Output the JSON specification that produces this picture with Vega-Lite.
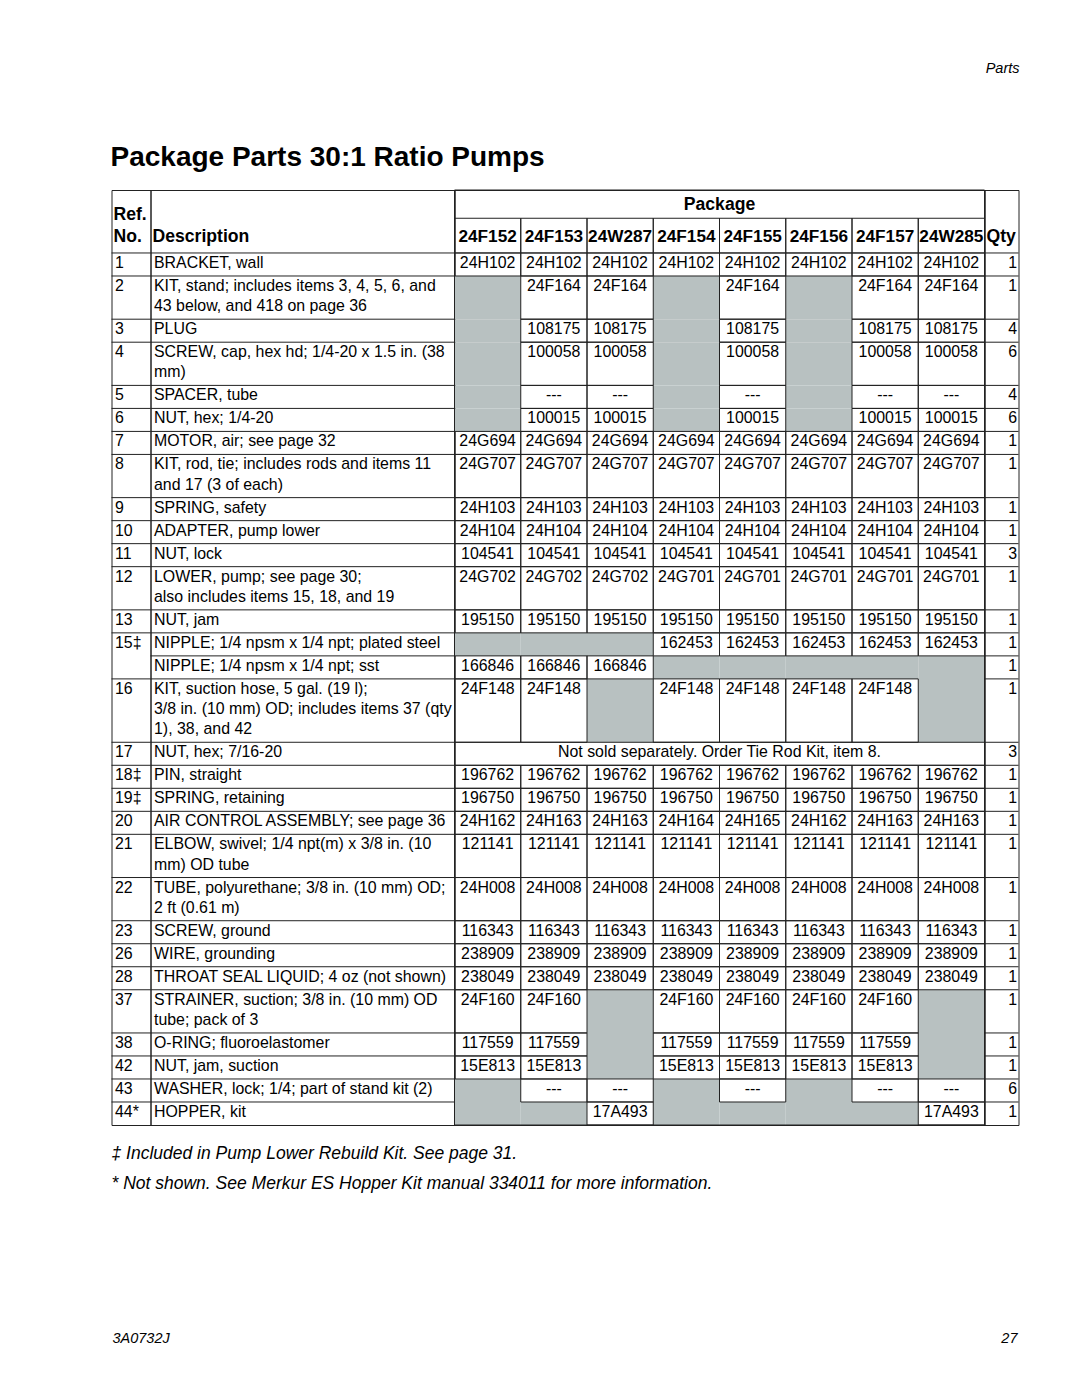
{
  "$schema": "https://vega.github.io/schema/vega-lite/v6.json",
  "background": "white",
  "padding": {"left": 110.5, "top": 60, "right": 62, "bottom": 0},
  "config": {
    "font": "Liberation Sans",
    "view": {"stroke": "#222", "strokeWidth": 1},
    "concat": {"spacing": 0},
    "text": {"font": "Liberation Sans", "fontSize": 15.9, "baseline": "alphabetic", "color": "#000"},
    "rule": {"color": "#222", "strokeWidth": 1},
    "title": {"font": "Liberation Sans", "color": "#000"}
  },
  "title": {"text": "Parts", "anchor": "end", "fontSize": 14.5, "fontStyle": "italic", "fontWeight": "normal", "offset": 68},
  "datasets": {
    "codes": [
      {"code": "24F152"}, {"code": "24F153"}, {"code": "24W287"}, {"code": "24F154"},
      {"code": "24F155"}, {"code": "24F156"}, {"code": "24F157"}, {"code": "24W285"}
    ],
    "rows": [
      {"ref": "1", "desc": ["BRACKET, wall"], "24F152": "24H102", "24F153": "24H102", "24W287": "24H102", "24F154": "24H102", "24F155": "24H102", "24F156": "24H102", "24F157": "24H102", "24W285": "24H102", "qty": "1"},
      {"ref": "2", "desc": ["KIT, stand; includes items 3, 4, 5, 6, and", "43 below, and 418 on page 36"], "24F152": "", "24F153": "24F164", "24W287": "24F164", "24F154": "", "24F155": "24F164", "24F156": "", "24F157": "24F164", "24W285": "24F164", "qty": "1"},
      {"ref": "3", "desc": ["PLUG"], "24F152": "", "24F153": "108175", "24W287": "108175", "24F154": "", "24F155": "108175", "24F156": "", "24F157": "108175", "24W285": "108175", "qty": "4"},
      {"ref": "4", "desc": ["SCREW, cap, hex hd; 1/4-20 x 1.5 in. (38", "mm)"], "24F152": "", "24F153": "100058", "24W287": "100058", "24F154": "", "24F155": "100058", "24F156": "", "24F157": "100058", "24W285": "100058", "qty": "6"},
      {"ref": "5", "desc": ["SPACER, tube"], "24F152": "", "24F153": "---", "24W287": "---", "24F154": "", "24F155": "---", "24F156": "", "24F157": "---", "24W285": "---", "qty": "4"},
      {"ref": "6", "desc": ["NUT, hex; 1/4-20"], "24F152": "", "24F153": "100015", "24W287": "100015", "24F154": "", "24F155": "100015", "24F156": "", "24F157": "100015", "24W285": "100015", "qty": "6"},
      {"ref": "7", "desc": ["MOTOR, air; see page 32"], "24F152": "24G694", "24F153": "24G694", "24W287": "24G694", "24F154": "24G694", "24F155": "24G694", "24F156": "24G694", "24F157": "24G694", "24W285": "24G694", "qty": "1"},
      {"ref": "8", "desc": ["KIT, rod, tie; includes rods and items 11", "and 17 (3 of each)"], "24F152": "24G707", "24F153": "24G707", "24W287": "24G707", "24F154": "24G707", "24F155": "24G707", "24F156": "24G707", "24F157": "24G707", "24W285": "24G707", "qty": "1"},
      {"ref": "9", "desc": ["SPRING, safety"], "24F152": "24H103", "24F153": "24H103", "24W287": "24H103", "24F154": "24H103", "24F155": "24H103", "24F156": "24H103", "24F157": "24H103", "24W285": "24H103", "qty": "1"},
      {"ref": "10", "desc": ["ADAPTER, pump lower"], "24F152": "24H104", "24F153": "24H104", "24W287": "24H104", "24F154": "24H104", "24F155": "24H104", "24F156": "24H104", "24F157": "24H104", "24W285": "24H104", "qty": "1"},
      {"ref": "11", "desc": ["NUT, lock"], "24F152": "104541", "24F153": "104541", "24W287": "104541", "24F154": "104541", "24F155": "104541", "24F156": "104541", "24F157": "104541", "24W285": "104541", "qty": "3"},
      {"ref": "12", "desc": ["LOWER, pump; see page 30;", "also includes items 15, 18, and 19"], "24F152": "24G702", "24F153": "24G702", "24W287": "24G702", "24F154": "24G701", "24F155": "24G701", "24F156": "24G701", "24F157": "24G701", "24W285": "24G701", "qty": "1"},
      {"ref": "13", "desc": ["NUT, jam"], "24F152": "195150", "24F153": "195150", "24W287": "195150", "24F154": "195150", "24F155": "195150", "24F156": "195150", "24F157": "195150", "24W285": "195150", "qty": "1"},
      {"ref": "15‡", "desc": ["NIPPLE; 1/4 npsm x 1/4 npt; plated steel"], "24F152": "", "24F153": "", "24W287": "", "24F154": "162453", "24F155": "162453", "24F156": "162453", "24F157": "162453", "24W285": "162453", "qty": "1"},
      {"ref": "", "desc": ["NIPPLE; 1/4 npsm x 1/4 npt; sst"], "24F152": "166846", "24F153": "166846", "24W287": "166846", "24F154": "", "24F155": "", "24F156": "", "24F157": "", "24W285": "", "qty": "1"},
      {"ref": "16", "desc": ["KIT, suction hose, 5 gal. (19 l);", "3/8 in. (10 mm) OD; includes items 37 (qty", "1), 38, and 42"], "24F152": "24F148", "24F153": "24F148", "24W287": "", "24F154": "24F148", "24F155": "24F148", "24F156": "24F148", "24F157": "24F148", "24W285": "", "qty": "1"},
      {"ref": "17", "desc": ["NUT, hex; 7/16-20"], "note": "Not sold separately. Order Tie Rod Kit, item 8.", "qty": "3"},
      {"ref": "18‡", "desc": ["PIN, straight"], "24F152": "196762", "24F153": "196762", "24W287": "196762", "24F154": "196762", "24F155": "196762", "24F156": "196762", "24F157": "196762", "24W285": "196762", "qty": "1"},
      {"ref": "19‡", "desc": ["SPRING, retaining"], "24F152": "196750", "24F153": "196750", "24W287": "196750", "24F154": "196750", "24F155": "196750", "24F156": "196750", "24F157": "196750", "24W285": "196750", "qty": "1"},
      {"ref": "20", "desc": ["AIR CONTROL ASSEMBLY; see page 36"], "24F152": "24H162", "24F153": "24H163", "24W287": "24H163", "24F154": "24H164", "24F155": "24H165", "24F156": "24H162", "24F157": "24H163", "24W285": "24H163", "qty": "1"},
      {"ref": "21", "desc": ["ELBOW, swivel; 1/4 npt(m) x 3/8 in. (10", "mm) OD tube"], "24F152": "121141", "24F153": "121141", "24W287": "121141", "24F154": "121141", "24F155": "121141", "24F156": "121141", "24F157": "121141", "24W285": "121141", "qty": "1"},
      {"ref": "22", "desc": ["TUBE, polyurethane; 3/8 in. (10 mm) OD;", "2 ft (0.61 m)"], "24F152": "24H008", "24F153": "24H008", "24W287": "24H008", "24F154": "24H008", "24F155": "24H008", "24F156": "24H008", "24F157": "24H008", "24W285": "24H008", "qty": "1"},
      {"ref": "23", "desc": ["SCREW, ground"], "24F152": "116343", "24F153": "116343", "24W287": "116343", "24F154": "116343", "24F155": "116343", "24F156": "116343", "24F157": "116343", "24W285": "116343", "qty": "1"},
      {"ref": "26", "desc": ["WIRE, grounding"], "24F152": "238909", "24F153": "238909", "24W287": "238909", "24F154": "238909", "24F155": "238909", "24F156": "238909", "24F157": "238909", "24W285": "238909", "qty": "1"},
      {"ref": "28", "desc": ["THROAT SEAL LIQUID; 4 oz (not shown)"], "24F152": "238049", "24F153": "238049", "24W287": "238049", "24F154": "238049", "24F155": "238049", "24F156": "238049", "24F157": "238049", "24W285": "238049", "qty": "1"},
      {"ref": "37", "desc": ["STRAINER, suction; 3/8 in. (10 mm) OD", "tube; pack of 3"], "24F152": "24F160", "24F153": "24F160", "24W287": "", "24F154": "24F160", "24F155": "24F160", "24F156": "24F160", "24F157": "24F160", "24W285": "", "qty": "1"},
      {"ref": "38", "desc": ["O-RING; fluoroelastomer"], "24F152": "117559", "24F153": "117559", "24W287": "", "24F154": "117559", "24F155": "117559", "24F156": "117559", "24F157": "117559", "24W285": "", "qty": "1"},
      {"ref": "42", "desc": ["NUT, jam, suction"], "24F152": "15E813", "24F153": "15E813", "24W287": "", "24F154": "15E813", "24F155": "15E813", "24F156": "15E813", "24F157": "15E813", "24W285": "", "qty": "1"},
      {"ref": "43", "desc": ["WASHER, lock; 1/4; part of stand kit (2)"], "24F152": "", "24F153": "---", "24W287": "---", "24F154": "", "24F155": "---", "24F156": "", "24F157": "---", "24W285": "---", "qty": "6"},
      {"ref": "44*", "desc": ["HOPPER, kit"], "24F152": "", "24F153": "", "24W287": "17A493", "24F154": "", "24F155": "", "24F156": "", "24F157": "", "24W285": "17A493", "qty": "1"}
    ],
    "notes": [
      {"t": ["‡ Included in Pump Lower Rebuild Kit. See page 31.", "* Not shown. See Merkur ES Hopper Kit manual 334011 for more information."]}
    ],
    "folio": [
      {"side": "left", "t": "3A0732J"},
      {"side": "right", "t": "27"}
    ]
  },
  "spacing": 0,
  "vconcat": [
    {
      "title": {"text": "Package Parts 30:1 Ratio Pumps", "anchor": "start", "fontSize": 28, "fontWeight": "bold", "offset": 17},
      "data": {"name": "rows"},
      "transform": [
        {"calculate": "length(datum.desc)", "as": "nl"},
        {"window": [{"op": "sum", "field": "nl", "as": "cl"}, {"op": "count", "as": "rn"}], "frame": [null, 0]},
        {"calculate": "3.12 + datum.cl + 0.14 * datum.rn", "as": "y1"},
        {"calculate": "datum.y1 - datum.nl - 0.14", "as": "y0"}
      ],
      "spacing": 0,
      "bounds": "flush",
      "hconcat": [
        {
          "width": 39, "height": 935,
          "layer": [
            {
              "transform": [{"filter": "datum.ref !== ''"}],
              "mark": {"type": "rule", "color": "#222", "strokeWidth": 1},
              "encoding": {
                "y": {"field": "y0", "type": "quantitative", "scale": {"domain": [0, 46.32], "reverse": true, "nice": false, "zero": false}, "axis": null}
              }
            },
            {
              "mark": {"type": "text", "align": "left", "dx": 3.5, "dy": 15},
              "encoding": {
                "x": {"datum": 0, "type": "quantitative", "scale": {"domain": [0, 1], "nice": false, "zero": false}, "axis": null},
                "y": {"field": "y0", "type": "quantitative", "axis": null},
                "text": {"field": "ref"}
              }
            },
            {
              "data": {"values": [{"t": ["Ref.", "No."]}]},
              "mark": {"type": "text", "align": "left", "dx": 2, "dy": 30, "fontWeight": "bold", "fontSize": 17.6, "lineHeight": 22},
              "encoding": {
                "x": {"datum": 0, "type": "quantitative", "axis": null},
                "y": {"datum": 0, "type": "quantitative", "axis": null},
                "text": {"field": "t"}
              }
            }
          ]
        },
        {
          "width": 304, "height": 935,
          "layer": [
            {
              "mark": {"type": "rule", "color": "#222", "strokeWidth": 1},
              "encoding": {
                "y": {"field": "y0", "type": "quantitative", "scale": {"domain": [0, 46.32], "reverse": true, "nice": false, "zero": false}, "axis": null}
              }
            },
            {
              "mark": {"type": "text", "align": "left", "dx": 3.5, "dy": 15, "lineHeight": 20.2},
              "encoding": {
                "x": {"datum": 0, "type": "quantitative", "scale": {"domain": [0, 1], "nice": false, "zero": false}, "axis": null},
                "y": {"field": "y0", "type": "quantitative", "axis": null},
                "text": {"field": "desc"}
              }
            },
            {
              "data": {"values": [{"t": "Description"}]},
              "mark": {"type": "text", "align": "left", "dx": 2, "dy": 52, "fontWeight": "bold", "fontSize": 17.6},
              "encoding": {
                "x": {"datum": 0, "type": "quantitative", "axis": null},
                "y": {"datum": 0, "type": "quantitative", "axis": null},
                "text": {"field": "t"}
              }
            }
          ]
        },
        {
          "width": 530, "height": 935,
          "layer": [
            {
              "transform": [
                {"filter": "!datum.note"},
                {"fold": ["24F152", "24F153", "24W287", "24F154", "24F155", "24F156", "24F157", "24W285"], "as": ["pkg", "val"]},
                {"filter": "datum.val === ''"}
              ],
              "mark": {"type": "rect", "color": "#b8c1c1", "strokeWidth": 0},
              "encoding": {
                "x": {"field": "pkg", "type": "nominal", "sort": null, "scale": {"domain": ["24F152", "24F153", "24W287", "24F154", "24F155", "24F156", "24F157", "24W285"], "paddingInner": 0, "paddingOuter": 0}, "axis": null},
                "y": {"field": "y0", "type": "quantitative", "scale": {"domain": [0, 46.32], "reverse": true, "nice": false, "zero": false}, "axis": null},
                "y2": {"field": "y1"}
              }
            },
            {
              "transform": [
                {"filter": "!datum.note"},
                {"fold": ["24F152", "24F153", "24W287", "24F154", "24F155", "24F156", "24F157", "24W285"], "as": ["pkg", "val"]},
                {"filter": "datum.val !== ''"}
              ],
              "mark": {"type": "rect", "filled": false, "color": "#222", "strokeWidth": 1},
              "encoding": {
                "x": {"field": "pkg", "type": "nominal", "axis": null},
                "y": {"field": "y0", "type": "quantitative", "axis": null},
                "y2": {"field": "y1"}
              }
            },
            {
              "transform": [
                {"filter": "!datum.note"},
                {"fold": ["24F152", "24F153", "24W287", "24F154", "24F155", "24F156", "24F157", "24W285"], "as": ["pkg", "val"]},
                {"filter": "datum.val !== ''"}
              ],
              "mark": {"type": "text", "dy": 15},
              "encoding": {
                "x": {"field": "pkg", "type": "nominal", "axis": null},
                "y": {"field": "y0", "type": "quantitative", "axis": null},
                "text": {"field": "val"}
              }
            },
            {
              "transform": [{"filter": "datum.note"}],
              "mark": {"type": "rect", "filled": false, "color": "#222", "strokeWidth": 1},
              "encoding": {
                "y": {"field": "y0", "type": "quantitative", "axis": null},
                "y2": {"field": "y1"}
              }
            },
            {
              "transform": [{"filter": "datum.note"}],
              "mark": {"type": "text", "dy": 15},
              "encoding": {
                "y": {"field": "y0", "type": "quantitative", "axis": null},
                "text": {"field": "note"}
              }
            },
            {
              "data": {"name": "codes"},
              "mark": {"type": "rect", "filled": false, "color": "#222", "strokeWidth": 1},
              "encoding": {
                "x": {"field": "code", "type": "nominal", "axis": null},
                "y": {"datum": 1.4, "type": "quantitative", "axis": null},
                "y2": {"datum": 3.12}
              }
            },
            {
              "data": {"values": [{"t": "Package"}]},
              "mark": {"type": "text", "fontWeight": "bold", "fontSize": 17.6, "dy": 20.3},
              "encoding": {
                "y": {"datum": 0, "type": "quantitative", "axis": null},
                "text": {"field": "t"}
              }
            },
            {
              "data": {"name": "codes"},
              "mark": {"type": "text", "fontWeight": "bold", "fontSize": 17.2, "dy": 52},
              "encoding": {
                "x": {"field": "code", "type": "nominal", "axis": null},
                "y": {"datum": 0, "type": "quantitative", "axis": null},
                "text": {"field": "code"}
              }
            },
            {
              "data": {"values": [{"frame": "table"}]},
              "mark": {"type": "rect", "filled": false, "color": "#222", "strokeWidth": 1},
              "encoding": {}
            }
          ]
        },
        {
          "width": 34, "height": 935,
          "layer": [
            {
              "mark": {"type": "rule", "color": "#222", "strokeWidth": 1},
              "encoding": {
                "y": {"field": "y0", "type": "quantitative", "scale": {"domain": [0, 46.32], "reverse": true, "nice": false, "zero": false}, "axis": null}
              }
            },
            {
              "mark": {"type": "text", "align": "right", "dx": -1.5, "dy": 15},
              "encoding": {
                "x": {"datum": 1, "type": "quantitative", "scale": {"domain": [0, 1], "nice": false, "zero": false}, "axis": null},
                "y": {"field": "y0", "type": "quantitative", "axis": null},
                "text": {"field": "qty"}
              }
            },
            {
              "data": {"values": [{"t": "Qty"}]},
              "mark": {"type": "text", "align": "left", "dx": 2, "dy": 52, "fontWeight": "bold", "fontSize": 17.6},
              "encoding": {
                "x": {"datum": 0, "type": "quantitative", "axis": null},
                "y": {"datum": 0, "type": "quantitative", "axis": null},
                "text": {"field": "t"}
              }
            }
          ]
        }
      ]
    },
    {
      "width": 907, "height": 175,
      "view": {"stroke": null},
      "data": {"name": "notes"},
      "mark": {"type": "text", "align": "left", "fontStyle": "italic", "fontSize": 17.5, "lineHeight": 30.5, "dy": 32.5},
      "encoding": {
        "x": {"datum": 0, "type": "quantitative", "scale": {"domain": [0, 1], "nice": false, "zero": false}, "axis": null},
        "y": {"datum": 1, "type": "quantitative", "scale": {"domain": [0, 1], "nice": false, "zero": false}, "axis": null},
        "text": {"field": "t"}
      }
    },
    {
      "width": 907, "height": 50,
      "view": {"stroke": null},
      "data": {"name": "folio"},
      "layer": [
        {
          "transform": [{"filter": "datum.side === 'left'"}],
          "mark": {"type": "text", "align": "left", "fontStyle": "italic", "fontSize": 14.5, "dx": 1, "dy": -8},
          "encoding": {
            "x": {"datum": 0, "type": "quantitative", "scale": {"domain": [0, 1], "nice": false, "zero": false}, "axis": null},
            "y": {"datum": 0, "type": "quantitative", "scale": {"domain": [0, 1], "nice": false, "zero": false}, "axis": null},
            "text": {"field": "t"}
          }
        },
        {
          "transform": [{"filter": "datum.side === 'right'"}],
          "mark": {"type": "text", "align": "right", "fontStyle": "italic", "fontSize": 14.5, "dx": -1, "dy": -8},
          "encoding": {
            "x": {"datum": 1, "type": "quantitative", "axis": null},
            "y": {"datum": 0, "type": "quantitative", "axis": null},
            "text": {"field": "t"}
          }
        }
      ]
    }
  ]
}
